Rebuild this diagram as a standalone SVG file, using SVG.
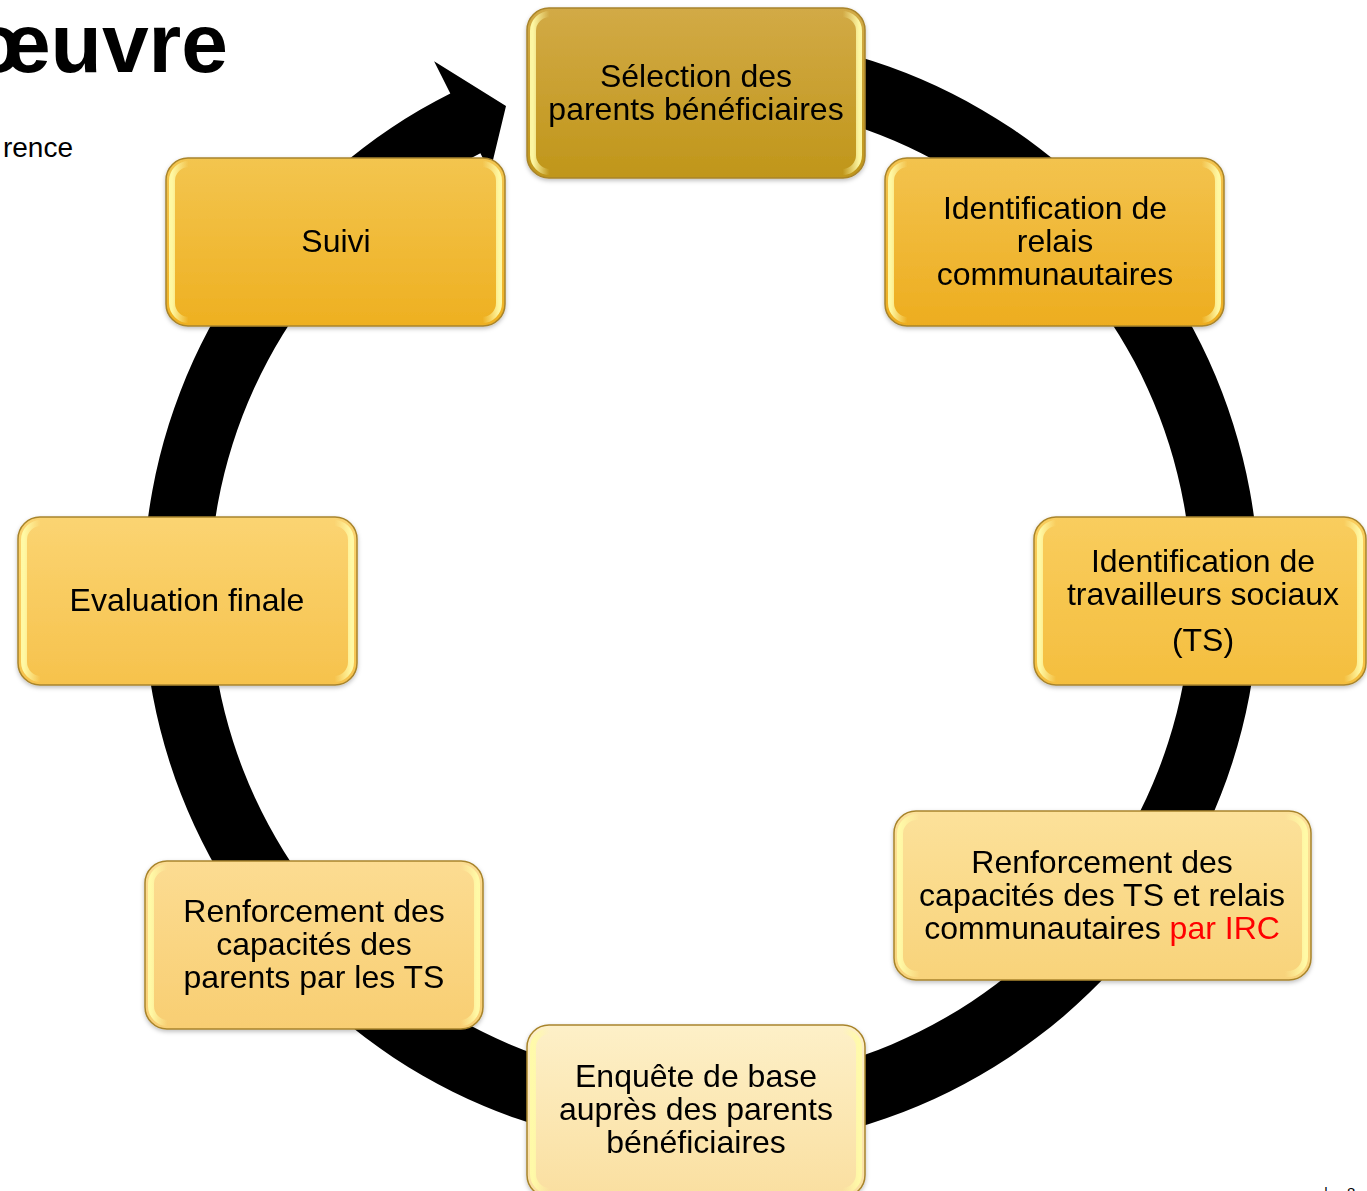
<svg xmlns="http://www.w3.org/2000/svg" width="1367" height="1191" viewBox="0 0 1367 1191">
<style>
text{font-family:"Liberation Sans",Arial,sans-serif;fill:#000}
.lbl{font-size:32px;text-anchor:middle}
.box{stroke:#A8842C;stroke-width:1.5}
.hl{fill:none;stroke:url(#hl);stroke-width:6}
.hl2{fill:none;stroke:#FFFFFF;stroke-opacity:0.18;stroke-width:2}
</style>
<defs>
<linearGradient id="hl" x1="0" y1="0" x2="1" y2="0">
<stop offset="0" stop-color="#FFFBA8" stop-opacity="0.95"/>
<stop offset="0.05" stop-color="#FFFBA8" stop-opacity="0"/>
<stop offset="0.95" stop-color="#FFFBA8" stop-opacity="0"/>
<stop offset="1" stop-color="#FFFBA8" stop-opacity="0.95"/>
</linearGradient>
<linearGradient id="g1" x1="0" y1="0" x2="0" y2="1"><stop offset="0" stop-color="#D2AA46"/><stop offset="1" stop-color="#C0961A"/></linearGradient>
<linearGradient id="g2" x1="0" y1="0" x2="0" y2="1"><stop offset="0" stop-color="#F3C34E"/><stop offset="1" stop-color="#EDAD1F"/></linearGradient>
<linearGradient id="g3" x1="0" y1="0" x2="0" y2="1"><stop offset="0" stop-color="#F9CD5E"/><stop offset="1" stop-color="#F4BE3E"/></linearGradient>
<linearGradient id="g4" x1="0" y1="0" x2="0" y2="1"><stop offset="0" stop-color="#FCE19A"/><stop offset="1" stop-color="#F8D37A"/></linearGradient>
<linearGradient id="g5" x1="0" y1="0" x2="0" y2="1"><stop offset="0" stop-color="#FDF0C8"/><stop offset="1" stop-color="#FADFA0"/></linearGradient>
<linearGradient id="g6" x1="0" y1="0" x2="0" y2="1"><stop offset="0" stop-color="#FCDC92"/><stop offset="1" stop-color="#F8CE72"/></linearGradient>
<linearGradient id="g7" x1="0" y1="0" x2="0" y2="1"><stop offset="0" stop-color="#FBD472"/><stop offset="1" stop-color="#F6C24C"/></linearGradient>
<linearGradient id="g8" x1="0" y1="0" x2="0" y2="1"><stop offset="0" stop-color="#F3C54F"/><stop offset="1" stop-color="#EEB021"/></linearGradient>
<filter id="sh" x="-5%" y="-5%" width="110%" height="115%">
<feDropShadow dx="0" dy="2" stdDeviation="2" flood-color="#000" flood-opacity="0.25"/>
</filter>
</defs>
<rect x="0" y="0" width="1367" height="1191" fill="#FFFFFF"/>
<text x="228" y="72" style="font-size:84px;font-weight:bold;text-anchor:end">œuvre</text>
<text x="73" y="157" style="font-size:28px;text-anchor:end">rence</text>

<g id="connectors">
<path d="M 652.4 36.1 A 558 558 0 1 1 450.3 93.5 L 434.1 61.3 L 506 106 L 490 172.4 L 480.4 153.3 A 491 491 0 1 0 658.2 102.9 Z" fill="#000000"/>
</g>

<g id="n1" filter="url(#sh)">
<rect class="box" x="527" y="8" width="338" height="170" rx="22" fill="url(#g1)"/>
<rect class="hl" x="533" y="14" width="326" height="158" rx="17"/>
<text class="lbl" x="696" y="87">Sélection des</text>
<text class="lbl" x="696" y="120">parents bénéficiaires</text>
</g>
<g id="n2" filter="url(#sh)">
<rect class="box" x="885" y="158" width="339" height="168" rx="22" fill="url(#g2)"/>
<rect class="hl" x="891" y="164" width="327" height="156" rx="17"/>
<text class="lbl" x="1055" y="219">Identification de</text>
<text class="lbl" x="1055" y="252">relais</text>
<text class="lbl" x="1055" y="285">communautaires</text>
</g>
<g id="n3" filter="url(#sh)">
<rect class="box" x="1034" y="517" width="332" height="168" rx="22" fill="url(#g3)"/>
<rect class="hl" x="1040" y="523" width="320" height="156" rx="17"/>
<text class="lbl" x="1203" y="572">Identification de</text>
<text class="lbl" x="1203" y="605">travailleurs sociaux</text>
<text class="lbl" x="1203" y="651">(TS)</text>
</g>
<g id="n4" filter="url(#sh)">
<rect class="box" x="894" y="811" width="417" height="169" rx="22" fill="url(#g4)"/>
<rect class="hl" x="900" y="817" width="405" height="157" rx="17"/>
<text class="lbl" x="1102" y="873">Renforcement des</text>
<text class="lbl" x="1102" y="906">capacités des TS et relais</text>
<text class="lbl" x="1102" y="939">communautaires <tspan style="fill:#FF0000">par IRC</tspan></text>
</g>
<g id="n5" filter="url(#sh)">
<rect class="box" x="527" y="1025" width="338" height="172" rx="22" fill="url(#g5)"/>
<rect class="hl" x="533" y="1031" width="326" height="160" rx="17"/>
<text class="lbl" x="696" y="1087">Enquête de base</text>
<text class="lbl" x="696" y="1120">auprès des parents</text>
<text class="lbl" x="696" y="1153">bénéficiaires</text>
</g>
<g id="n6" filter="url(#sh)">
<rect class="box" x="145" y="861" width="338" height="168" rx="22" fill="url(#g6)"/>
<rect class="hl" x="151" y="867" width="326" height="156" rx="17"/>
<text class="lbl" x="314" y="922">Renforcement des</text>
<text class="lbl" x="314" y="955">capacités des</text>
<text class="lbl" x="314" y="988">parents par les TS</text>
</g>
<g id="n7" filter="url(#sh)">
<rect class="box" x="18" y="517" width="339" height="168" rx="22" fill="url(#g7)"/>
<rect class="hl" x="24" y="523" width="327" height="156" rx="17"/>
<text class="lbl" x="187" y="611">Evaluation finale</text>
</g>
<g id="n8" filter="url(#sh)">
<rect class="box" x="166" y="158" width="339" height="168" rx="22" fill="url(#g8)"/>
<rect class="hl" x="172" y="164" width="327" height="156" rx="17"/>
<text class="lbl" x="336" y="252">Suivi</text>
</g>

<text x="1324" y="1198" style="font-size:15px">|</text>
<text x="1347" y="1198" style="font-size:15px">8</text>
</svg>
